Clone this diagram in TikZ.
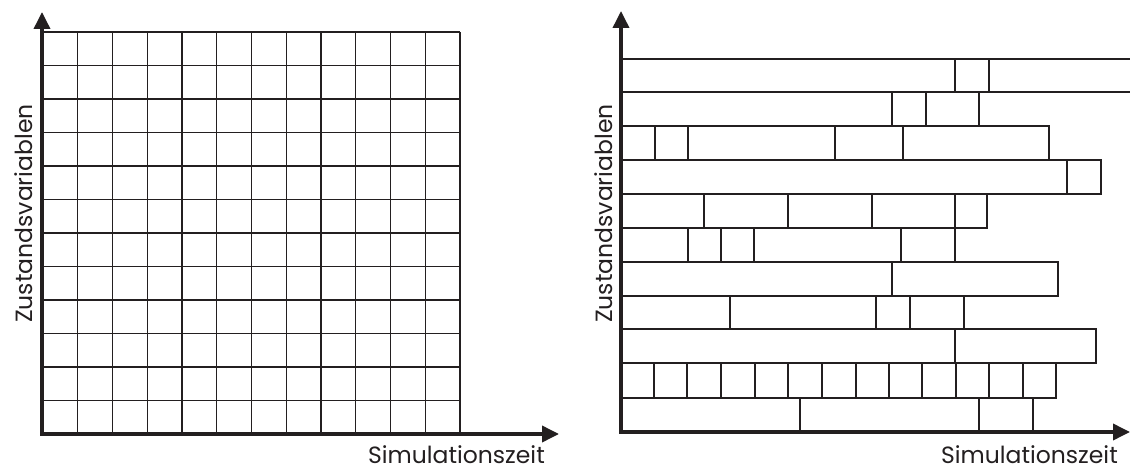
\documentclass[tikz,border=0pt]{standalone}
\usepackage{fontspec}
\setmainfont{Poppins}
\usetikzlibrary{arrows.meta}
\definecolor{ink}{HTML}{231F20}
\tikzset{
  gridline/.style={draw=ink, line width=1.3pt},
  barbox/.style={draw=ink, line width=1.3pt},
  axis/.style={draw=ink, line width=3.6pt, -{Triangle[length=17pt,width=16pt]}},
  axlabel/.style={text=ink, inner sep=0pt, text depth=0pt, font=\fontsize{23.5}{28}\selectfont}
}
\begin{document}
\begin{tikzpicture}[x=1pt,y=-1pt]
\useasboundingbox (0,0) rectangle (1130,470);
% ---------- left chart: regular grid ----------
\foreach \i in {0,...,12}{
  \draw[gridline] ({43+\i*34.75},32) -- ({43+\i*34.75},434);
  \draw[gridline] (43,{32+\i*33.5}) -- (460,{32+\i*33.5});
}
\coordinate (L0) at (42,434);
\coordinate (Ltop) at (42,12);
\coordinate (Lright) at (559,434);
\draw[axis] ([yshift=-1.8pt]L0) -- (Ltop);
\draw[axis] ([xshift=-1.8pt]L0) -- (Lright);
\node[axlabel, anchor=base east] (Lx) at (545,463) {Simulationszeit};
\node[axlabel, rotate=90, anchor=base west] (Ly) at (32,323) {Zustandsvariablen};
% ---------- right chart: variable time steps ----------
\foreach \a/\b in {621/955,955/989,989/1134} \draw[barbox] (\a,59) rectangle (\b,92);
\foreach \a/\b in {621/892,892/926,926/979} \draw[barbox] (\a,92) rectangle (\b,126);
\foreach \a/\b in {621/655,655/688,688/835,835/903,903/1049} \draw[barbox] (\a,126) rectangle (\b,160);
\foreach \a/\b in {621/1067,1067/1101} \draw[barbox] (\a,160) rectangle (\b,194);
\foreach \a/\b in {621/704,704/788,788/872,872/955,955/987} \draw[barbox] (\a,194) rectangle (\b,228);
\foreach \a/\b in {621/688,688/721,721/754,754/901,901/955} \draw[barbox] (\a,228) rectangle (\b,262);
\foreach \a/\b in {621/892,892/1058} \draw[barbox] (\a,262) rectangle (\b,296);
\foreach \a/\b in {621/730,730/876,876/910,910/964} \draw[barbox] (\a,296) rectangle (\b,329);
\foreach \a/\b in {621/955,955/1096} \draw[barbox] (\a,329) rectangle (\b,363);
\foreach \a/\b in {621/654,654/687,687/721,721/755,755/788,788/822,822/856,856/889,889/922,922/956,956/989,989/1023,1023/1056} \draw[barbox] (\a,363) rectangle (\b,398);
\foreach \a/\b in {621/800,800/979,979/1033} \draw[barbox] (\a,398) rectangle (\b,432);
\coordinate (R0) at (621,432);
\coordinate (Rtop) at (621,11);
\coordinate (Rright) at (1130,432);
\draw[axis] ([yshift=-1.8pt]R0) -- (Rtop);
\draw[axis] ([xshift=-1.8pt]R0) -- (Rright);
\node[axlabel, anchor=base east] (Rx) at (1118,463) {Simulationszeit};
\node[axlabel, rotate=90, anchor=base west] (Ry) at (612,323) {Zustandsvariablen};
\end{tikzpicture}
\end{document}
